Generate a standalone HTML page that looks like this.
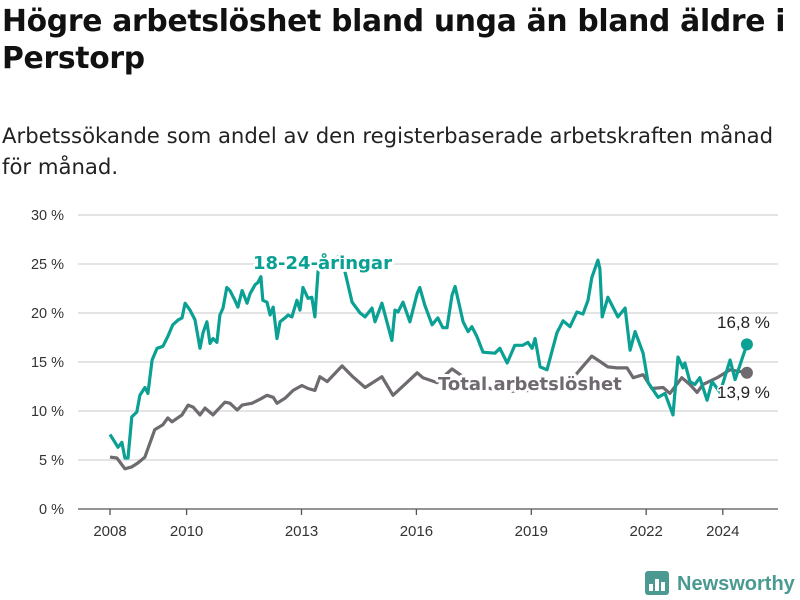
<!DOCTYPE html>
<html><head><meta charset="utf-8"><style>
body{margin:0;width:800px;height:600px;background:#fff;font-family:"Liberation Sans","DejaVu Sans",sans-serif;overflow:hidden;position:relative}
h1{position:absolute;left:2px;top:3px;margin:0;font-size:29.8px;line-height:37px;font-weight:bold;color:#111;font-family:"DejaVu Sans",sans-serif;letter-spacing:-0.3px;white-space:nowrap}
.sub{position:absolute;left:2px;top:120px;margin:0;font-size:21.2px;line-height:31px;color:#222;font-family:"DejaVu Sans",sans-serif;white-space:nowrap}
svg{position:absolute;left:0;top:0}
</style></head><body>
<h1>Högre arbetslöshet bland unga än bland äldre i<br>Perstorp</h1>
<p class="sub">Arbetssökande som andel av den registerbaserade arbetskraften månad<br>för månad.</p>
<svg id="chart" width="800" height="600"></svg>
<script>
const yTicks=[0,5,10,15,20,25,30];
const xTicks=[2008,2010,2013,2016,2019,2022,2024];
const youthYears=[2008,2008.13,2008.21,2008.31,2008.39,2008.47,2008.57,2008.70,2008.78,2008.91,2008.99,2009.10,2009.23,2009.38,2009.51,2009.64,2009.78,2009.88,2009.96,2010.09,2010.22,2010.35,2010.43,2010.53,2010.61,2010.69,2010.79,2010.87,2010.95,2011.05,2011.13,2011.26,2011.34,2011.45,2011.58,2011.66,2011.79,2011.86,2011.94,2011.99,2012.10,2012.18,2012.26,2012.36,2012.44,2012.57,2012.65,2012.75,2012.88,2012.96,2013.04,2013.17,2013.27,2013.35,2013.43,2013.54,2013.69,2013.87,2014.01,2014.14,2014.32,2014.53,2014.66,2014.84,2014.92,2015.10,2015.36,2015.44,2015.52,2015.65,2015.83,2016.02,2016.09,2016.22,2016.41,2016.56,2016.69,2016.80,2016.93,2017.01,2017.22,2017.35,2017.45,2017.58,2017.74,2018.05,2018.18,2018.37,2018.57,2018.78,2018.91,2019.02,2019.10,2019.23,2019.41,2019.67,2019.83,2020.01,2020.19,2020.35,2020.48,2020.58,2020.74,2020.79,2020.85,2021.00,2021.26,2021.45,2021.58,2021.71,2021.92,2022.05,2022.31,2022.49,2022.70,2022.83,2022.96,2023.01,2023.14,2023.27,2023.40,2023.59,2023.72,2023.93,2024.19,2024.32,2024.63];
const youthValues=[7.6,6.8,6.3,6.8,5.2,5.2,9.4,9.9,11.6,12.4,11.8,15.2,16.4,16.6,17.6,18.8,19.3,19.5,21.0,20.3,19.3,16.4,18.0,19.1,16.9,17.4,17.0,19.8,20.5,22.6,22.3,21.3,20.6,22.3,21.0,22.0,22.9,23.1,23.7,21.3,21.1,19.8,20.6,17.4,19.1,19.5,19.8,19.6,21.3,20.3,22.6,21.5,21.6,19.6,24.2,25.6,24.4,25.3,26.0,24.1,21.1,20.0,19.6,20.5,19.1,21.0,17.2,20.3,20.1,21.1,19.1,22.0,22.6,20.8,18.8,19.5,18.5,18.5,21.8,22.7,19.1,18.1,18.6,17.6,16.0,15.9,16.4,14.9,16.7,16.7,17.0,16.4,17.4,14.5,14.2,18.0,19.2,18.6,20.1,19.9,21.3,23.6,25.4,24.5,19.6,21.6,19.6,20.5,16.2,18.1,15.9,12.9,11.4,11.8,9.6,15.5,14.4,14.9,13.0,12.7,13.4,11.1,13.0,11.9,15.2,13.2,16.8];
const totalYears=[2008,2008.18,2008.39,2008.57,2008.73,2008.91,2009.17,2009.38,2009.51,2009.62,2009.88,2010.04,2010.17,2010.35,2010.48,2010.69,2011.00,2011.13,2011.32,2011.45,2011.71,2011.92,2012.10,2012.26,2012.36,2012.57,2012.78,2013.01,2013.17,2013.35,2013.48,2013.67,2014.06,2014.34,2014.66,2015.10,2015.39,2015.75,2016.02,2016.17,2016.54,2016.93,2017.40,2017.92,2018.44,2018.97,2019.49,2020.01,2020.27,2020.58,2020.85,2021.00,2021.24,2021.50,2021.66,2021.92,2022.15,2022.44,2022.62,2022.93,2023.14,2023.33,2023.48,2023.85,2024.19,2024.63];
const totalValues=[5.3,5.2,4.1,4.3,4.7,5.3,8.1,8.6,9.3,8.9,9.6,10.6,10.4,9.6,10.3,9.6,10.9,10.8,10.1,10.6,10.8,11.2,11.6,11.4,10.8,11.3,12.1,12.6,12.3,12.1,13.5,13.0,14.6,13.5,12.4,13.5,11.6,12.9,13.9,13.4,12.9,14.3,13.0,12.3,12.0,12.1,12.3,13.0,14.2,15.6,14.9,14.5,14.4,14.4,13.4,13.7,12.3,12.4,11.8,13.4,12.7,11.9,12.7,13.4,14.2,13.9];

const NS='http://www.w3.org/2000/svg';
const svg=document.getElementById('chart');
const X0=110,PXY=38.3,Y0=509,PXV=9.8;
const xs=y=>X0+(y-2008)*PXY;
const ys=v=>Y0-v*PXV;
function mk(tag,attrs,parent){const e=document.createElementNS(NS,tag);for(const k in attrs)e.setAttribute(k,attrs[k]);(parent||svg).appendChild(e);return e;}
const F='"DejaVu Sans",sans-serif';
const FL='"Liberation Sans",sans-serif';
yTicks.forEach(t=>{
  const g=mk('line',{x1:78,x2:778,y1:ys(t),y2:ys(t),stroke:t===0?'#555':'#dcdcdc','stroke-width':t===0?1.3:1.5});
  
  
  const l=mk('text',{x:64,y:ys(t)+5,'text-anchor':'end','font-size':14.5,fill:'#333','font-family':FL});
  l.textContent=t+' %';
  
  
});
xTicks.forEach(t=>{
  const tk=mk('line',{x1:xs(t),x2:xs(t),y1:509,y2:515,stroke:'#555','stroke-width':1.3});
  
  
  const l=mk('text',{x:xs(t),y:536,'text-anchor':'middle','font-size':15,fill:'#333','font-family':FL});
  l.textContent=t;
  
  
});
function line(yrs,vals,color,name){
  const d=yrs.map((y,i)=>(i?'L':'M')+xs(y).toFixed(1)+','+ys(vals[i]).toFixed(1)).join('');
  const p=mk('path',{d:d,fill:'none',stroke:color,'stroke-width':3.2,'stroke-linejoin':'round'});
  
  
  const n=yrs.length-1;
  const c=mk('circle',{cx:xs(yrs[n]),cy:ys(vals[n]),r:6,fill:color});
  
  
}
line(totalYears,totalValues,'#6e6a6f','total-line');
line(youthYears,youthValues,'#0aa093','youth-line');
function label(txt,x,y,color,name,bold,size,font){
  const t=mk('text',{x:x,y:y,'font-size':size,'font-weight':bold?'bold':'normal',fill:color,'font-family':font||F,stroke:'#fff','stroke-width':bold?6:3,'paint-order':'stroke','stroke-linejoin':'round'});
  t.textContent=txt;
  
  
}
label('18-24-åringar',253,269,'#0aa093','youth-series-label',true,18);
label('Total arbetslöshet',438,390,'#6e6a6f','total-series-label',true,18);
label('16,8 %',717,328,'#222','youth-end-value',false,17,FL);
label('13,9 %',717,398,'#222','total-end-value',false,17,FL);
const lg=mk('g',{});


mk('rect',{x:645,y:571,width:24,height:24,rx:3,fill:'#4a9a92'},lg);
[[649,584,4,7],[655,579,4,12],[661,582,4,9]].forEach(r=>mk('rect',{x:r[0],y:r[1],width:r[2],height:r[3],fill:'#fff'},lg));
const lt=mk('text',{x:677,y:590,'font-size':20,'font-weight':'bold',fill:'#4a9a92','font-family':FL},lg);
lt.textContent='Newsworthy';
</script>
</body></html>
